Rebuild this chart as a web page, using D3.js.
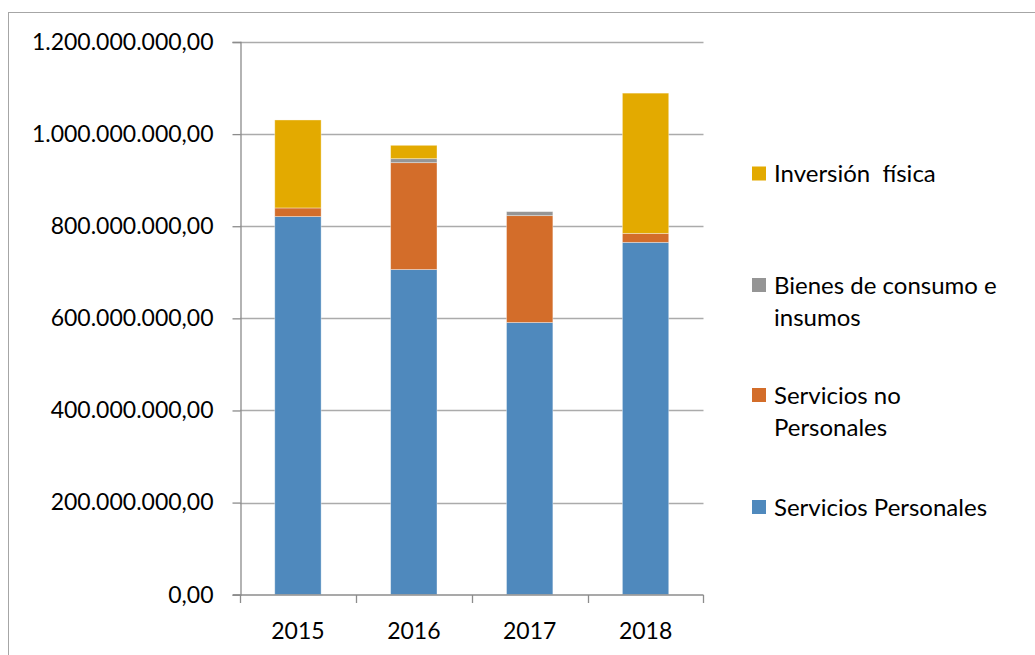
<!DOCTYPE html>
<html><head><meta charset="utf-8">
<script src="https://cdn.jsdelivr.net/npm/d3@7"></script>
<style>body{margin:0;background:#fff}svg{display:block}text{font-family:Lato,"Open Sans",sans-serif;fill:#000}</style>
</head><body><svg id="c" width="1035" height="655"></svg>
<script>
const years = ["2015","2016","2017","2018"];
const serviciosPersonales = [821000000, 706000000, 591000000, 765000000];
const serviciosNoPersonales = [18700000, 232000000, 232000000, 19500000];
const bienesConsumo = [0, 8700000, 8700000, 0];
const inversionFisica = [191000000, 29000000, 0, 304500000];
const seriesNames = ["Servicios Personales","Servicios no Personales","Bienes de consumo e insumos","Inversión  física"];
const seriesValues = [serviciosPersonales, serviciosNoPersonales, bienesConsumo, inversionFisica];
const seriesColors = ["#4F89BD","#D36D2A","#959595","#E3AA00"];
const yTicks = [0,200000000,400000000,600000000,800000000,1000000000,1200000000];
const legendLines = [["Inversión  física"],["Bienes de consumo e","insumos"],["Servicios no","Personales"],["Servicios Personales"]];

const svg = d3.select("#c");
svg.append("rect").attr("x",8.5).attr("y",12.5).attr("width",1040).attr("height",660)
  .attr("fill","none").attr("stroke","#a6a6a6");

const x = d3.scaleBand().domain(years).range([240,703.5]).paddingInner(0.6).paddingOuter(0.3);
const xb = d3.scaleBand().domain(years).range([240,703.5]);
const y = d3.scaleLinear().domain([0,1200000000]).range([594.7,42]);

// gridlines
svg.append("g").selectAll("line").data(yTicks.slice(1)).join("line")
  .attr("x1",240).attr("x2",703.5).attr("y1",d=>Math.round(y(d))+0.5).attr("y2",d=>Math.round(y(d))+0.5)
  .attr("stroke","#ababab").attr("stroke-width",1.3);

// stacked data
const table = years.map((yr,i)=>{const o={year:yr};seriesNames.forEach((n,j)=>o[n]=seriesValues[j][i]);return o;});
const stack = d3.stack().keys(seriesNames)(table);
svg.append("g").selectAll("g").data(stack).join("g").attr("fill",(d,i)=>seriesColors[i])
  .selectAll("rect").data(d=>d).join("rect")
  .attr("x",d=>x(d.data.year)).attr("width",x.bandwidth())
  .attr("y",d=>y(d[1])).attr("height",d=>Math.max(0,y(d[0])-y(d[1])))
  .attr("stroke","#ffffff").attr("stroke-opacity",0.45).attr("stroke-width",0.8);

// y axis
const ya = svg.append("g").attr("transform","translate(240.5,0)")
  .call(d3.axisLeft(y).tickValues(yTicks).tickSize(8).tickPadding(19)
  .tickFormat(d=>{const s=d3.format(",.2f")(d);return s.replace(/,/g,"#").replace(".",",").replace(/#/g,".");}));
ya.select(".domain").attr("stroke","#8c8c8c").attr("stroke-width",1.3);
ya.selectAll(".tick line").attr("stroke","#8c8c8c").attr("stroke-width",1.3);
ya.selectAll("text").style("font-size","23px").attr("fill","#000");

// x axis
const xa = svg.append("g").attr("transform","translate(0,595)");
xa.append("line").attr("x1",233).attr("x2",703.5).attr("stroke","#8c8c8c").attr("stroke-width",1.3);
xa.selectAll("line.t").data(years.concat(["end"])).join("line").attr("class","t")
  .attr("x1",(d,i)=>i<years.length?Math.round(xb(d))+0.5:703.5).attr("x2",(d,i)=>i<years.length?Math.round(xb(d))+0.5:703.5)
  .attr("y1",0).attr("y2",8).attr("stroke","#8c8c8c").attr("stroke-width",1.3);
xa.selectAll("text").data(years).join("text")
  .attr("x",d=>x(d)+x.bandwidth()/2).attr("y",44).attr("text-anchor","middle")
  .style("font-size","23px").text(d=>d);

// legend
const legendY = [173.5, 285, 395, 507];
const lg = svg.append("g");
legendLines.forEach((lines,i)=>{
  const g = lg.append("g").attr("transform",`translate(752,${legendY[i]})`);
  g.append("rect").attr("x",0).attr("y",-7).attr("width",14).attr("height",14).attr("fill",seriesColors[3-i]);
  lines.forEach((t,k)=>g.append("text").attr("x",22).attr("y",8.5+k*32).style("font-size","24px").style("white-space","pre").text(t));
});
</script></body></html>
